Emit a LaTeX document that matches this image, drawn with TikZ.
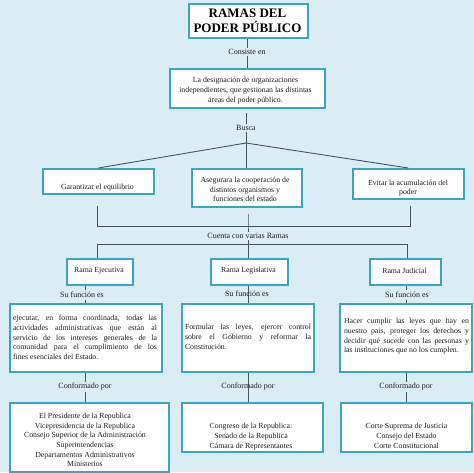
\documentclass[tikz,border=0pt]{standalone}
\usepackage{fontspec}
\setmainfont{Liberation Serif}
\definecolor{bgc}{HTML}{DBEDF4}
\definecolor{bordc}{HTML}{3AA5BB}
\definecolor{connc}{HTML}{3C5860}
\newcommand{\nohy}{\tolerance=10000\relax\hyphenpenalty=10000\relax}
\begin{document}
\begin{tikzpicture}[x=1pt,y=-1pt,
  box/.style={draw=bordc, line width=1.6pt, fill=white, inner sep=0pt, anchor=north west},
  txt/.style={font=\fontsize{7.8}{9.7}\selectfont, inner sep=0pt, align=center, text=black!88},
  jtxt/.style={font=\fontsize{7.8}{9.7}\selectfont, inner sep=0pt, align=justify, text=black!88},
  lbl/.style={font=\fontsize{8}{9.7}\selectfont, inner sep=1.5pt, text=black!88},
  conn/.style={draw=connc, line width=0.9pt}]
\useasboundingbox (0,0) rectangle (474,472);
\fill[bgc] (0,0) rectangle (474,472);

% boxes
\node[box, minimum width=119pt, minimum height=34pt] (title) at (188,3) {};
\node[box, minimum width=155pt, minimum height=39pt] (b2) at (169,68) {};
\node[box, minimum width=111pt, minimum height=25pt] (g1) at (42,168) {};
\node[box, minimum width=110pt, minimum height=38pt] (g2) at (191,168) {};
\node[box, minimum width=111pt, minimum height=30pt] (g3) at (352,168) {};
\node[box, minimum width=66pt, minimum height=26pt] (r1) at (66,258) {};
\node[box, minimum width=77pt, minimum height=26pt] (r2) at (210,258) {};
\node[box, minimum width=71pt, minimum height=26pt] (r3) at (369,258) {};
\node[box, minimum width=152pt, minimum height=68pt] (f1) at (9,303) {};
\node[box, minimum width=132pt, minimum height=68pt] (f2) at (181,303) {};
\node[box, minimum width=132pt, minimum height=68pt] (f3) at (339,303) {};
\node[box, minimum width=159pt, minimum height=69pt] (c1) at (9,402) {};
\node[box, minimum width=141pt, minimum height=49pt] (c2) at (181,402) {};
\node[box, minimum width=131pt, minimum height=49pt] (c3) at (340,402) {};

% texts in boxes
\node[txt, font=\fontsize{13}{15}\selectfont\bfseries, text=black] (titlet) at (247.5,21) {RAMAS DEL\\PODER PÚBLICO};
\node[txt] (b2t) at (245.5,90.5) {La designación de organizaciones\\independientes, que gestionan las distintas\\áreas del poder público.};
\node[txt] (g1t) at (97.5,188) {Garantizar el equilibrio};
\node[txt] (g2t) at (245,189.5) {Asegurara la cooperación de\\distintos organismos y\\funciones del estado};
\node[txt] (g3t) at (408,188) {Evitar la acumulación del\\poder};
\node[txt] (r1t) at (99,271) {Rama Ejecutiva};
\node[txt] (r2t) at (248.5,271) {Rama Legislativa};
\node[txt] (r3t) at (404.5,271) {Rama Judicial};
\node[jtxt, text width=144pt] (f1t) at (85,337.5) {\nohy ejecutar, en forma coordinada, todas las\linebreak actividades administrativas que están al\linebreak servicio de los intereses generales de la\linebreak comunidad para el cumplimiento de los\linebreak fines esenciales del Estado.};
\node[jtxt, text width=126pt] (f2t) at (248,337) {\nohy Formular las leyes, ejercer control\linebreak sobre el Gobierno y reformar la\linebreak Constitución.};
\node[jtxt, text width=125pt] (f3t) at (406.5,336.5) {\nohy Hacer cumplir las leyes que hay en\linebreak nuestro país, proteger los derechos y\linebreak decidir qué sucede con las personas y\linebreak las instituciones que no los cumplen.};
\node[txt] (c1t) at (85,440) {El Presidente de la Republica\\Vicepresidencia de la Republica\\Consejo Superior de la Administración\\Superintendencias\\Departamentos Administrativos\\Ministerios};
\node[txt] (c2t) at (251,436.5) {Congreso de la Republica:\\Senado de la Republica\\Cámara de Representantes};
\node[txt] (c3t) at (406.5,436) {Corte Suprema de Justicia\\Consejo del Estado\\Corte Constitucional};

% labels
\node[lbl] (consiste) at (247,52) {Consiste en};
\node[lbl] (busca) at (246,128) {Busca};
\node[lbl] (cuenta) at (248,236) {Cuenta con varias Ramas};
\node[lbl] (sf1) at (82,295) {Su función es};
\node[lbl] (sf3) at (407,295) {Su función es};
\node[lbl] (co1) at (85,387) {Conformado por};
\node[lbl] (co3) at (406,387) {Conformado por};

% coordinates
\coordinate (xL) at (85,0);
\coordinate (xC) at (248,0);
\coordinate (xR) at (406,0);
\coordinate (b2s) at (246,113);
\coordinate (j) at (246,143);
\coordinate (bl) at (97,206);
\coordinate (br) at (410,206);
\coordinate (bc) at (248,214);
\coordinate (tl) at (97,226);
\coordinate (tr) at (410,226);
\coordinate (tc) at (248,226);
\coordinate (hL) at (97,244);
\coordinate (hC) at (248,244);
\coordinate (hR) at (407,244);

% connectors
\draw[conn] (consiste.north |- title.south) -- (consiste.north);
\draw[conn] (consiste.south) -- (consiste.south |- b2.north);
\draw[conn] (b2s) -- (busca.north);
\draw[conn] (busca.south) -- (busca.south |- g2.north);
\draw[conn] (j) -- (g1.north);
\draw[conn] (j) -- (g3.north);
\draw[conn] (bl) -- (tl) -- (tr) -- (br);
\draw[conn] (bc) -- (tc) -- (cuenta.north);
\draw[conn] (cuenta.south) -- (hC);
\draw[conn] (hL) -- (hR);
\draw[conn] (hL) -- (hL |- r1.north);
\draw[conn] (hC) -- (hC |- r2.north);
\draw[conn] (hR) -- (hR |- r3.north);
\draw[conn] (xL |- r1.south) -- (xL |- sf1.north);
\draw[conn] (xL |- sf1.south) -- (xL |- f1.north);
\draw[conn] (xC |- r2.south) -- (xC |- f2.north);
\draw[conn] (xR |- r3.south) -- (xR |- sf3.north);
\draw[conn] (xR |- sf3.south) -- (xR |- f3.north);
\draw[conn] (xL |- f1.south) -- (xL |- co1.north);
\draw[conn] (xL |- co1.south) -- (xL |- c1.north);
\draw[conn] (xC |- f2.south) -- (xC |- c2.north);
\draw[conn] (xR |- f3.south) -- (xR |- co3.north);
\draw[conn] (xR |- co3.south) -- (xR |- c3.north);

% middle labels drawn over the line
\node[lbl] (sf2) at (247,294) {Su función es};
\node[lbl] (co2) at (248,387) {Conformado por};
\end{tikzpicture}
\end{document}
